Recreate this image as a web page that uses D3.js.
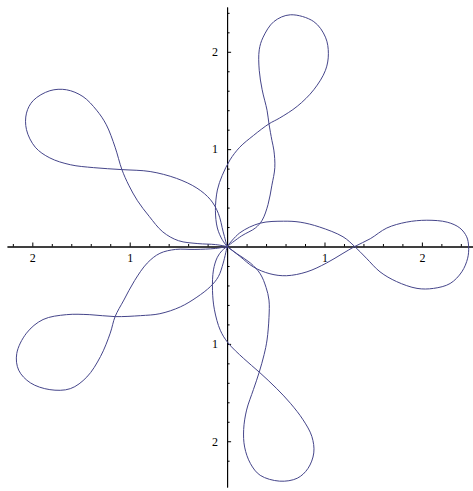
<!DOCTYPE html>
<html>
<head>
<meta charset="utf-8">
<script src="https://cdn.jsdelivr.net/npm/d3@7"></script>
<style>
  body { margin: 0; background: #fff; }
  .tick text { font-family: "Liberation Serif", "DejaVu Serif", serif; font-size: 12px; fill: #000; }
</style>
</head>
<body>
<svg id="chart" width="473" height="491"></svg>
<script>
// plot range (data units)
const xRange = [-2.26, 2.53];
const yRange = [-2.47, 2.46];

const majorTicks = [-2, -1, 1, 2];
const minorTicks = [-2.2, -1.8, -1.6, -1.4, -1.2, -0.8, -0.6, -0.4, -0.2,
  0.2, 0.4, 0.6, 0.8, 1.2, 1.4, 1.6, 1.8, 2.2, 2.4];

// curve, one figure-eight petal at a time
const petalRight = [
  [0, 0], [0.13, 0.14], [0.34, 0.24], [0.58, 0.26], [0.75, 0.25], [0.95, 0.2],
  [1.19, 0.1], [1.31, 0], [1.43, -0.12], [1.57, -0.26], [1.74, -0.36], [1.95, -0.43],
  [2.12, -0.43], [2.29, -0.38], [2.41, -0.26], [2.47, -0.12], [2.48, 0], [2.46, 0.1],
  [2.39, 0.19], [2.26, 0.25], [2.05, 0.27], [1.84, 0.25], [1.64, 0.19], [1.47, 0.08],
  [1.31, 0], [1.19, -0.07], [1.02, -0.17], [0.82, -0.26], [0.61, -0.3], [0.44, -0.28],
  [0.27, -0.21], [0.13, -0.1], [0, 0]
];

const petalTop = [
  [0, 0], [0.15, 0.11], [0.29, 0.19], [0.36, 0.27], [0.42, 0.43], [0.46, 0.63],
  [0.49, 0.81], [0.48, 0.99], [0.46, 1.09], [0.43, 1.26], [0.41, 1.4], [0.36, 1.61],
  [0.33, 1.81], [0.33, 2.02], [0.37, 2.15], [0.48, 2.31], [0.65, 2.38], [0.89, 2.31],
  [1.01, 2.15], [1.04, 1.98], [1.01, 1.81], [0.89, 1.61], [0.72, 1.44], [0.54, 1.32],
  [0.43, 1.26], [0.27, 1.14], [0.13, 1.02], [0.03, 0.89], [-0.05, 0.73], [-0.1, 0.58],
  [-0.12, 0.37], [-0.1, 0.19], [-0.05, 0.07], [0, 0]
];

const petalUpperLeft = [
  [0, 0], [-0.04, 0.15], [-0.09, 0.34], [-0.17, 0.48], [-0.31, 0.6], [-0.52, 0.7],
  [-0.79, 0.77], [-1.08, 0.79], [-1.37, 0.81], [-1.61, 0.84], [-1.82, 0.91], [-1.97, 1.02],
  [-2.06, 1.2], [-2.06, 1.37], [-1.99, 1.5], [-1.82, 1.6], [-1.65, 1.61], [-1.48, 1.54],
  [-1.34, 1.4], [-1.24, 1.25], [-1.15, 1.02], [-1.08, 0.79], [-1.01, 0.63], [-0.92, 0.47],
  [-0.8, 0.31], [-0.66, 0.15], [-0.5, 0.06], [-0.3, 0.03], [-0.12, 0.02], [0, 0]
];

const petalLowerLeft = [
  [0, 0], [-0.12, -0.02], [-0.33, -0.03], [-0.53, -0.03], [-0.69, -0.07], [-0.82, -0.17],
  [-0.95, -0.35], [-1.06, -0.55], [-1.15, -0.72], [-1.2, -0.89], [-1.3, -1.13], [-1.44, -1.34],
  [-1.61, -1.46], [-1.82, -1.47], [-2.02, -1.4], [-2.14, -1.27], [-2.16, -1.1], [-2.06, -0.89],
  [-1.89, -0.75], [-1.65, -0.7], [-1.41, -0.7], [-1.15, -0.72], [-0.89, -0.71], [-0.69, -0.69],
  [-0.48, -0.62], [-0.31, -0.52], [-0.17, -0.41], [-0.09, -0.31], [-0.04, -0.17], [0, 0]
];

const petalBottom = [
  [0, 0], [0.11, -0.08], [0.24, -0.17], [0.34, -0.28], [0.4, -0.42], [0.43, -0.55],
  [0.43, -0.73], [0.41, -0.96], [0.38, -1.11], [0.33, -1.29], [0.27, -1.47], [0.2, -1.68],
  [0.17, -1.88], [0.18, -2.06], [0.24, -2.23], [0.34, -2.35], [0.54, -2.41], [0.72, -2.38],
  [0.83, -2.28], [0.89, -2.12], [0.87, -1.95], [0.78, -1.78], [0.65, -1.61], [0.51, -1.46],
  [0.33, -1.29], [0.17, -1.15], [0.01, -0.99], [-0.07, -0.86], [-0.13, -0.65], [-0.15, -0.45],
  [-0.14, -0.24], [-0.1, -0.11], [-0.05, -0.04], [0, 0]
];

const petals = [petalRight, petalTop, petalUpperLeft, petalLowerLeft, petalBottom];

const svg = d3.select("#chart");

const x = d3.scaleLinear().domain(xRange).range([7, 473.5]);
const y = d3.scaleLinear().domain(yRange).range([487, 7]);

const fmt = (d) => String(Math.abs(d));

// x axis: ticks point up, labels below
svg.append("g")
  .attr("transform", `translate(0,${y(0)})`)
  .call(d3.axisBottom(x).tickValues(minorTicks).tickSize(-2.5).tickSizeOuter(0).tickFormat(""));
svg.append("g")
  .attr("transform", `translate(0,${y(0)})`)
  .call(d3.axisBottom(x).tickValues(majorTicks).tickSize(-4).tickSizeOuter(0).tickPadding(7).tickFormat(fmt));

// y axis: ticks point right, labels left
svg.append("g")
  .attr("transform", `translate(${x(0)},0)`)
  .call(d3.axisLeft(y).tickValues(minorTicks).tickSize(-2.5).tickSizeOuter(0).tickFormat(""));
svg.append("g")
  .attr("transform", `translate(${x(0)},0)`)
  .call(d3.axisLeft(y).tickValues(majorTicks).tickSize(-4).tickSizeOuter(0).tickPadding(9).tickFormat(fmt));

svg.selectAll(".domain, .tick line").attr("stroke", "#000").attr("stroke-width", 1);

const line = d3.line()
  .x((d) => x(d[0]))
  .y((d) => y(d[1]))
  .curve(d3.curveCatmullRom.alpha(0.5));

svg.append("g")
  .selectAll("path")
  .data(petals)
  .join("path")
  .attr("d", line)
  .attr("fill", "none")
  .attr("stroke", "#45458a")
  .attr("stroke-width", 1);
</script>
</body>
</html>
